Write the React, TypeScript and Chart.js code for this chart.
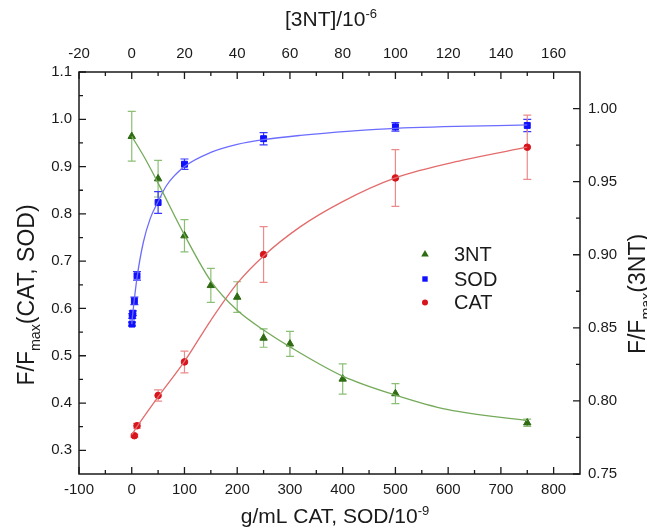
import React, { useEffect, useRef } from 'react';
import { Chart, registerables } from 'chart.js';

Chart.register(...registerables);

// ---------- data ----------
// 3NT (top axis [3NT]/10^-6, right axis F/Fmax(3NT))
const ntX = [0, 10, 20, 30, 40, 50, 60, 80, 100, 150];
const ntY = [0.981, 0.952, 0.913, 0.879, 0.871, 0.843, 0.839, 0.815, 0.805, 0.785];
const ntErr = [0.017, 0.0125, 0.011, 0.0116, 0.0105, 0.0063, 0.0085, 0.0103, 0.0068, 0.0025];
const ntFitX = [0, 5, 10, 20, 30, 40, 50, 60, 80, 100, 120, 150];
const ntFitY = [0.981, 0.966, 0.949, 0.9135, 0.882, 0.862, 0.8485, 0.837, 0.817, 0.804, 0.794, 0.7865];

// SOD (bottom axis g/mL, left axis)
const sodX = [0.5, 1, 2, 5, 10, 50, 100, 250, 500, 750];
const sodY = [0.567, 0.584, 0.59, 0.616, 0.669, 0.824, 0.905, 0.959, 0.984, 0.987];
const sodErr = [0.004, 0.005, 0.005, 0.008, 0.009, 0.023, 0.011, 0.013, 0.009, 0.013];
const sodFitX = [0, 3, 10, 22, 35, 50, 66, 100, 150, 200, 250, 320, 415, 500, 750];
const sodFitY = [0.567, 0.6, 0.665, 0.74, 0.79, 0.826, 0.86, 0.9, 0.93, 0.947, 0.957, 0.966, 0.975, 0.981, 0.988];

// CAT (bottom axis g/mL, left axis)
const catX = [5, 10, 50, 100, 250, 500, 750];
const catY = [0.331, 0.352, 0.416, 0.487, 0.714, 0.876, 0.941];
const catErr = [0.003, 0.005, 0.012, 0.023, 0.059, 0.06, 0.068];
const catFitX = [0, 10, 50, 100, 150, 200, 250, 320, 400, 500, 630, 750];
const catFitY = [0.333, 0.35, 0.413, 0.488, 0.575, 0.653, 0.711, 0.773, 0.826, 0.876, 0.914, 0.941];

// ticks
const xTicks = [-100, 0, 100, 200, 300, 400, 500, 600, 700, 800];
const xMinor = [-50, 50, 150, 250, 350, 450, 550, 650, 750];
const x2Ticks = [-20, 0, 20, 40, 60, 80, 100, 120, 140, 160];
const x2Minor = [-10, 10, 30, 50, 70, 90, 110, 130, 150];
const yTicks = [0.3, 0.4, 0.5, 0.6, 0.7, 0.8, 0.9, 1.0, 1.1];
const yMinor = [0.35, 0.45, 0.55, 0.65, 0.75, 0.85, 0.95, 1.05];
const y2Ticks = [0.75, 0.8, 0.85, 0.9, 0.95, 1.0];
const y2Minor = [0.775, 0.825, 0.875, 0.925, 0.975];

const legendLabels = ['3NT', 'SOD', 'CAT'];

// ---------- style ----------
const W = 647;
const H = 529;
const FONT = "'Liberation Sans', Arial, Helvetica, sans-serif";
const TEXT = '#1a1a1a';
const GREEN_M = '#2f6b12';
const GREEN_E = '#8cbf76';
const GREEN_L = '#74aa5a';
const BLUE_M = '#1010ff';
const BLUE_E = '#3a3aff';
const BLUE_L = '#6c6cff';
const RED_M = '#d8141c';
const RED_E = '#eb8b8b';
const RED_L = '#e36b6b';
const TITLE = 21;
const VTITLE = 23;

type Part = { t: string; s: number };

function drawRich(ctx: CanvasRenderingContext2D, parts: Part[], x: number, y: number, size: number) {
  const small = size * 0.62;
  const widths = parts.map((p) => {
    ctx.font = `${p.s === 0 ? size : small}px ${FONT}`;
    return ctx.measureText(p.t).width;
  });
  const total = widths.reduce((a, b) => a + b, 0);
  let cx = x - total / 2;
  ctx.textBaseline = 'alphabetic';
  ctx.textAlign = 'left';
  const base = y + size * 0.35;
  parts.forEach((p, i) => {
    ctx.font = `${p.s === 0 ? size : small}px ${FONT}`;
    const dy = p.s === 0 ? 0 : p.s > 0 ? -size * 0.42 : size * 0.25;
    ctx.fillText(p.t, cx, base + dy);
    cx += widths[i];
  });
}

function drawErrs(ctx: CanvasRenderingContext2D, xs: number[], ys: number[], es: number[], xs_: any, ys_: any, color: string) {
  ctx.save();
  ctx.strokeStyle = color;
  ctx.lineWidth = 1.2;
  for (let i = 0; i < xs.length; i++) {
    const px = xs_.getPixelForValue(xs[i]);
    const t = ys_.getPixelForValue(ys[i] + es[i]);
    const b = ys_.getPixelForValue(ys[i] - es[i]);
    ctx.beginPath();
    ctx.moveTo(px, t);
    ctx.lineTo(px, b);
    ctx.moveTo(px - 4, t);
    ctx.lineTo(px + 4, t);
    ctx.moveTo(px - 4, b);
    ctx.lineTo(px + 4, b);
    ctx.stroke();
  }
  ctx.restore();
}

const overlay = {
  id: 'overlay',
  beforeDatasetsDraw(chart: any) {
    const ctx = chart.ctx as CanvasRenderingContext2D;
    const s = chart.scales;
    drawErrs(ctx, ntX, ntY, ntErr, s.x2, s.y2, GREEN_E);
    drawErrs(ctx, sodX, sodY, sodErr, s.x, s.y, BLUE_E);
    drawErrs(ctx, catX, catY, catErr, s.x, s.y, RED_E);
  },
  afterDraw(chart: any) {
    const ctx = chart.ctx as CanvasRenderingContext2D;
    const a = chart.chartArea;
    const s = chart.scales;
    ctx.save();
    // frame
    ctx.strokeStyle = '#1a1a1a';
    ctx.lineWidth = 1.5;
    ctx.strokeRect(a.left, a.top, a.right - a.left, a.bottom - a.top);
    // inward ticks
    const MAJ = 7;
    const MIN = 4;
    ctx.lineWidth = 1.3;
    ctx.beginPath();
    const hx = (vals: number[], sc: any, y0: number, dir: number, len: number) => {
      vals.forEach((v) => {
        const p = sc.getPixelForValue(v);
        ctx.moveTo(p, y0);
        ctx.lineTo(p, y0 + dir * len);
      });
    };
    const vy = (vals: number[], sc: any, x0: number, dir: number, len: number) => {
      vals.forEach((v) => {
        const p = sc.getPixelForValue(v);
        ctx.moveTo(x0, p);
        ctx.lineTo(x0 + dir * len, p);
      });
    };
    hx(xTicks, s.x, a.bottom, -1, MAJ);
    hx(xMinor, s.x, a.bottom, -1, MIN);
    hx(x2Ticks, s.x2, a.top, 1, MAJ);
    hx(x2Minor, s.x2, a.top, 1, MIN);
    vy(yTicks, s.y, a.left, 1, MAJ);
    vy(yMinor, s.y, a.left, 1, MIN);
    vy(y2Ticks, s.y2, a.right, -1, MAJ);
    vy(y2Minor, s.y2, a.right, -1, MIN);
    ctx.stroke();

    // axis titles
    ctx.fillStyle = TEXT;
    drawRich(ctx, [{ t: 'g/mL CAT, SOD/10', s: 0 }, { t: '-9', s: 1 }], 335, 516, TITLE);
    drawRich(ctx, [{ t: '[3NT]/10', s: 0 }, { t: '-6', s: 1 }], 331, 19, TITLE);
    ctx.save();
    ctx.translate(26, 295);
    ctx.rotate(-Math.PI / 2);
    drawRich(ctx, [{ t: 'F/F', s: 0 }, { t: 'max', s: -1 }, { t: '(CAT, SOD)', s: 0 }], 0, 0, VTITLE);
    ctx.restore();
    ctx.save();
    ctx.translate(637, 294);
    ctx.rotate(-Math.PI / 2);
    drawRich(ctx, [{ t: 'F/F', s: 0 }, { t: 'max', s: -1 }, { t: '(3NT)', s: 0 }], 0, 0, VTITLE);
    ctx.restore();

    // legend
    const lx = 425;
    const ly = [254, 279, 302.5];
    ctx.fillStyle = GREEN_M;
    ctx.beginPath();
    ctx.moveTo(lx, ly[0] - 4);
    ctx.lineTo(lx + 3.8, ly[0] + 2.6);
    ctx.lineTo(lx - 3.8, ly[0] + 2.6);
    ctx.closePath();
    ctx.fill();
    ctx.fillStyle = BLUE_M;
    ctx.fillRect(lx - 2.7, ly[1] - 2.7, 5.4, 5.4);
    ctx.fillStyle = RED_M;
    ctx.beginPath();
    ctx.arc(lx, ly[2], 3, 0, Math.PI * 2);
    ctx.fill();
    ctx.fillStyle = TEXT;
    ctx.font = `20px ${FONT}`;
    ctx.textAlign = 'left';
    ctx.textBaseline = 'middle';
    legendLabels.forEach((l, i) => ctx.fillText(l, 454, ly[i] + 1));
    ctx.restore();
  },
};

const tickFont = { family: FONT, size: 15 };

function makeScale(pos: string, min: number, max: number, ticks: number[], digits: number | null, fitSize: number, pad: number) {
  const horiz = pos === 'top' || pos === 'bottom';
  return {
    type: 'linear',
    position: pos,
    min,
    max,
    afterBuildTicks: (sc: any) => {
      sc.ticks = ticks.map((v) => ({ value: v }));
    },
    afterFit: (sc: any) => {
      if (horiz) sc.height = fitSize;
      else sc.width = fitSize;
    },
    grid: { display: false, drawTicks: false, tickLength: 0 },
    border: { display: false },
    ticks: {
      font: tickFont,
      color: TEXT,
      padding: pad,
      autoSkip: false,
      maxRotation: 0,
      callback: (v: any) => (digits === null ? String(v) : Number(v).toFixed(digits)),
    },
  };
}

export default function App() {
  const ref = useRef<HTMLCanvasElement>(null);
  useEffect(() => {
    const toPts = (xs: number[], ys: number[]) => xs.map((x, i) => ({ x, y: ys[i] }));
    const lineDs = (xs: number[], ys: number[], color: string, xa: string, ya: string) => ({
      data: toPts(xs, ys),
      xAxisID: xa,
      yAxisID: ya,
      showLine: true,
      borderColor: color,
      borderWidth: 1.3,
      pointRadius: 0,
      cubicInterpolationMode: 'monotone',
      fill: false,
    });
    const ptDs = (xs: number[], ys: number[], color: string, style: string, r: number, xa: string, ya: string) => ({
      data: toPts(xs, ys),
      xAxisID: xa,
      yAxisID: ya,
      showLine: false,
      pointStyle: style,
      pointRadius: r,
      backgroundColor: color,
      borderColor: color,
      borderWidth: 1,
    });
    const chart = new Chart(ref.current as HTMLCanvasElement, {
      type: 'scatter',
      data: {
        datasets: [
          lineDs(ntFitX, ntFitY, GREEN_L, 'x2', 'y2'),
          lineDs(sodFitX, sodFitY, BLUE_L, 'x', 'y'),
          lineDs(catFitX, catFitY, RED_L, 'x', 'y'),
          ptDs(ntX, ntY, GREEN_M, 'triangle', 4.3, 'x2', 'y2'),
          ptDs(sodX, sodY, BLUE_M, 'rect', 4.2, 'x', 'y'),
          ptDs(catX, catY, RED_M, 'circle', 3.3, 'x', 'y'),
        ] as any,
      },
      options: {
        responsive: false,
        animation: false,
        events: [],
        layout: { padding: 0 },
        plugins: { legend: { display: false }, tooltip: { enabled: false } },
        scales: {
          x: makeScale('bottom', -100, 850, xTicks, null, H - 474, 7),
          x2: makeScale('top', -20, 170, x2Ticks, null, 72, 9),
          y: makeScale('left', 0.25, 1.1, yTicks, 1, 79, 7),
          y2: makeScale('right', 0.75, 1.025, y2Ticks, 2, W - 580, 8),
        } as any,
      },
      plugins: [overlay],
    });
    return () => chart.destroy();
  }, []);
  return (
    <div style={{ position: 'fixed', left: 0, top: 0, width: W, height: H, background: '#fff' }}>
      <canvas ref={ref} width={W} height={H} style={{ display: 'block' }} />
    </div>
  );
}
